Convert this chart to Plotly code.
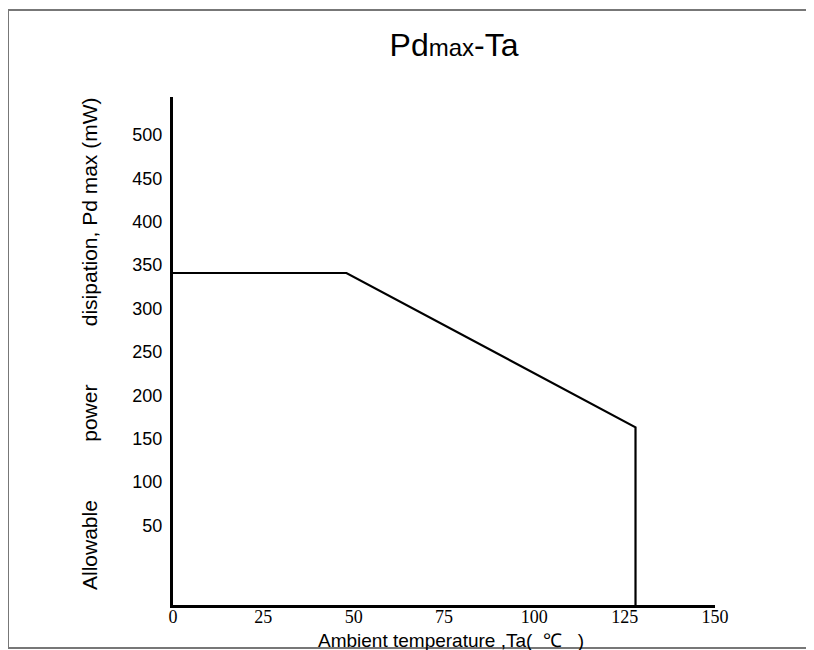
import plotly.graph_objects as go

# Data
temps = [0, 48, 128, 128]          # Ambient temperature Ta (°C)
power = [341, 341, 163, -42]       # Allowable power dissipation Pd max (mW)
x_ticks = [0, 25, 50, 75, 100, 125, 150]
y_ticks = [50, 100, 150, 200, 250, 300, 350, 400, 450, 500]

# The page body adds an 8px offset; figure coords = page coords - 8
OFF = 8
W, H = 814 - OFF, 650 - OFF
L, R, T, B = 173 - OFF, 715 - OFF, 97 - OFF, 605 - OFF   # plot area in figure px

def px_x(p):
    return (p - OFF - L) / (R - L)

def px_y(p):
    return (B - (p - OFF)) / (B - T)

fig = go.Figure()
fig.add_trace(go.Scatter(x=temps, y=power, mode="lines",
                         line=dict(color="black", width=2.2), hoverinfo="skip",
                         showlegend=False))

nb = "\u00a0"
fig.update_layout(
    width=W, height=H,
    margin=dict(l=L, r=W - R, t=T, b=H - B, pad=0),
    paper_bgcolor="white", plot_bgcolor="white",
    title=dict(text="Pd<span style='font-size:24px'>max</span>-Ta",
               x=(454 - OFF) / W, xanchor="center", xref="container",
               y=1 - (45 - OFF) / H, yanchor="middle", yref="container",
               font=dict(family="Arial, Liberation Sans, sans-serif", size=32, color="black")),
    xaxis=dict(range=[0, 150], tickvals=x_ticks, ticktext=[str(v) for v in x_ticks],
               showgrid=False, zeroline=False, showline=True, linecolor="black",
               linewidth=3, ticks="", ticklabelstandoff=-7,
               tickfont=dict(family="Liberation Serif, Times New Roman, serif", size=18, color="black")),
    yaxis=dict(range=[-42, 544], tickvals=y_ticks, ticktext=[str(v) for v in y_ticks],
               showgrid=False, zeroline=False, showline=True, linecolor="black",
               linewidth=3, ticks="", ticklabelstandoff=4,
               tickfont=dict(family="Arial, Liberation Sans, sans-serif", size=18, color="black")),
)

frame = dict(color="#777777", width=2)
fig.add_shape(type="line", xref="paper", yref="paper", x0=px_x(8), x1=px_x(830),
              y0=px_y(10), y1=px_y(10), line=frame)
fig.add_shape(type="line", xref="paper", yref="paper", x0=px_x(8), x1=px_x(830),
              y0=px_y(648), y1=px_y(648), line=frame)
fig.add_shape(type="line", xref="paper", yref="paper", x0=px_x(8), x1=px_x(8),
              y0=px_y(10), y1=px_y(648), line=frame)

fig.add_annotation(text="Allowable" + nb * 10 + "power" + nb * 10 + "disipation, Pd max (mW)",
                   xref="paper", yref="paper", x=px_x(89), y=px_y(344), textangle=-90,
                   showarrow=False, xanchor="center", yanchor="middle",
                   font=dict(family="Arial, Liberation Sans, sans-serif", size=21, color="black"))
fig.add_annotation(text="Ambient temperature ,Ta(" + nb * 2 + "℃" + nb * 3 + ")",
                   xref="paper", yref="paper", x=px_x(451), y=px_y(640),
                   showarrow=False, xanchor="center", yanchor="middle",
                   font=dict(family="Arial, Liberation Sans, sans-serif", size=19, color="black"))

fig.write_html("out.html")
